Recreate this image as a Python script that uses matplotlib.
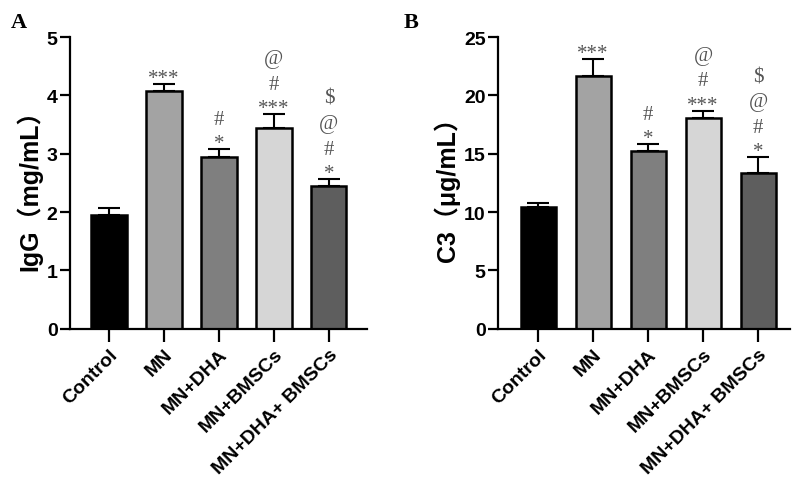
import numpy as np
import matplotlib
matplotlib.use('Agg')
import matplotlib.pyplot as plt

# Groups and colours
GROUPS = ['Control', 'MN', 'MN+DHA', 'MN+BMSCs', 'MN+DHA+ BMSCs']
COLORS = ['#000000', '#a3a3a3', '#7f7f7f', '#d6d6d6', '#5e5e5e']

# Panel A: IgG (mg/mL)
IGG_MEAN = [1.95, 4.07, 2.95, 3.44, 2.44]
IGG_ERR = [0.12, 0.13, 0.13, 0.24, 0.13]

# Panel B: C3 (ug/mL)
C3_MEAN = [10.45, 21.7, 15.2, 18.1, 13.35]
C3_ERR = [0.3, 1.45, 0.65, 0.6, 1.35]

# Significance marks, bottom to top, per bar
MARKS = [[], ['***'], ['*', '#'], ['***', '#', '@'], ['*', '#', '@', '$']]

SANS = ['Liberation Sans', 'Noto Sans CJK SC', 'DejaVu Sans']
SERIF = ['Liberation Serif', 'DejaVu Serif']

# offsets (points) of each mark's centre above the error bar top
MARK_OFFSETS = [8, 21.5, 40, 58]


def draw_panel(ax, means, errs, ylim, yticks, ylabel, xlim):
  '''
  Draws one bar panel with upper error bars and the significance marks.
  '''
  x = np.arange(len(GROUPS))
  lower = np.zeros(len(errs))
  ax.errorbar(x, means, yerr=[lower, errs], fmt='none', ecolor='black',
              elinewidth=1.5, capsize=8, capthick=1.5, zorder=1)
  ax.bar(x, means, width=0.64, color=COLORS, edgecolor='black',
         linewidth=1.8, zorder=2)

  for i in range(len(GROUPS)):
    top = means[i] + errs[i]
    for j, m in enumerate(MARKS[i]):
      off = MARK_OFFSETS[j]
      if m.startswith('*'):
        off -= 4
      ax.annotate(m, (x[i], top), xytext=(0, off), textcoords='offset points',
                  ha='center', va='center', fontsize=15, color='#555555',
                  family=SERIF)

  ax.set_xlim(*xlim)
  ax.set_ylim(*ylim)
  ax.set_yticks(yticks)
  ax.set_xticks(x)
  ax.set_xticklabels(GROUPS, rotation=45, ha='right', rotation_mode='anchor',
                     fontsize=14, fontweight='bold', family=SANS)
  for lab in ax.get_yticklabels():
    lab.set_fontsize(14)
    lab.set_fontweight('bold')
    lab.set_family(SANS)
  ax.set_ylabel(ylabel, fontsize=18, fontweight='bold', family=SANS, labelpad=3)

  for s in ['top', 'right']:
    ax.spines[s].set_visible(False)
  for s in ['left', 'bottom']:
    ax.spines[s].set_linewidth(1.6)
  ax.tick_params(axis='x', length=9, width=1.6, pad=3)
  ax.tick_params(axis='y', length=7, width=1.6, pad=2)


fig = plt.figure(figsize=(8, 5.02), dpi=100)
ax1 = fig.add_axes([0.0875, 0.343, 0.371, 0.581])
ax2 = fig.add_axes([0.6225, 0.343, 0.365, 0.581])

draw_panel(ax1, IGG_MEAN, IGG_ERR, (0, 5), [0, 1, 2, 3, 4, 5],
           'IgG（mg/mL）', (-0.71, 4.69))
draw_panel(ax2, C3_MEAN, C3_ERR, (0, 25), [0, 5, 10, 15, 20, 25],
           'C3（μg/mL）', (-0.73, 4.58))

fig.text(0.013, 0.955, 'A', fontsize=16, fontweight='bold', family=SERIF,
         va='center')
fig.text(0.505, 0.955, 'B', fontsize=16, fontweight='bold', family=SERIF,
         va='center')

fig.savefig('out.png', dpi=100)
